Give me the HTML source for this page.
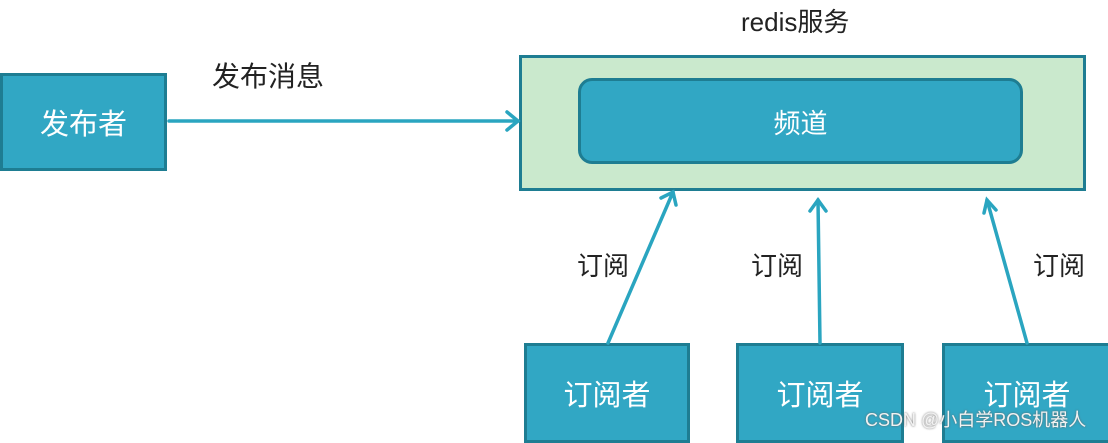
<!DOCTYPE html>
<html><head><meta charset="utf-8"><style>
body{margin:0;width:1108px;height:440px;background:#fff;overflow:hidden;position:relative;font-family:"Liberation Sans","Noto Sans CJK SC",sans-serif}
.b{position:absolute;background:#31a7c4;border:3px solid #1e7d92;box-sizing:border-box;color:#fff;font-size:29px;display:flex;align-items:center;justify-content:center}
.t{position:absolute;color:#222;font-size:26px;line-height:1}
</style></head><body>
<div class="b" style="left:0;top:73px;width:167px;height:98px">发布者</div>
<div style="position:absolute;left:519px;top:55px;width:567px;height:136px;background:#cae9cd;border:3px solid #1e7d92;box-sizing:border-box"></div>
<div class="b" style="left:578px;top:78px;width:445px;height:86px;border-radius:14px;font-size:27px">频道</div>
<div class="b" style="left:524px;top:343px;width:166px;height:100px">订阅者</div>
<div class="b" style="left:736px;top:343px;width:168px;height:100px">订阅者</div>
<div class="b" style="left:942px;top:343px;width:170px;height:100px">订阅者</div>
<div class="t" style="left:741px;top:9px;font-size:26px">redis服务</div>
<div class="t" style="left:212px;top:63px;font-size:28px">发布消息</div>
<div class="t" style="left:577px;top:253px">订阅</div>
<div class="t" style="left:751px;top:253px">订阅</div>
<div class="t" style="left:1033px;top:253px">订阅</div>
<svg width="1108" height="440" style="position:absolute;left:0;top:0">
<g stroke="#2aa5c0" stroke-width="3.5" fill="none" stroke-linecap="round">
<line x1="169" y1="121" x2="518" y2="121"/><polyline points="507,112 518,121 507,130"/>
<line x1="608" y1="343" x2="673" y2="192"/><polyline points="661,198 673,192 676,205"/>
<line x1="820" y1="343" x2="818" y2="200"/><polyline points="810,211 818,200 826,211"/>
<line x1="1027" y1="343" x2="987" y2="200"/><polyline points="984,213 987,200 996,210"/>
</g></svg>
<div style="position:absolute;left:865px;top:406px;font-size:18px;color:#f2f2f2;text-shadow:0 0 2px #666">CSDN @小白学ROS机器人</div>
</body></html>
